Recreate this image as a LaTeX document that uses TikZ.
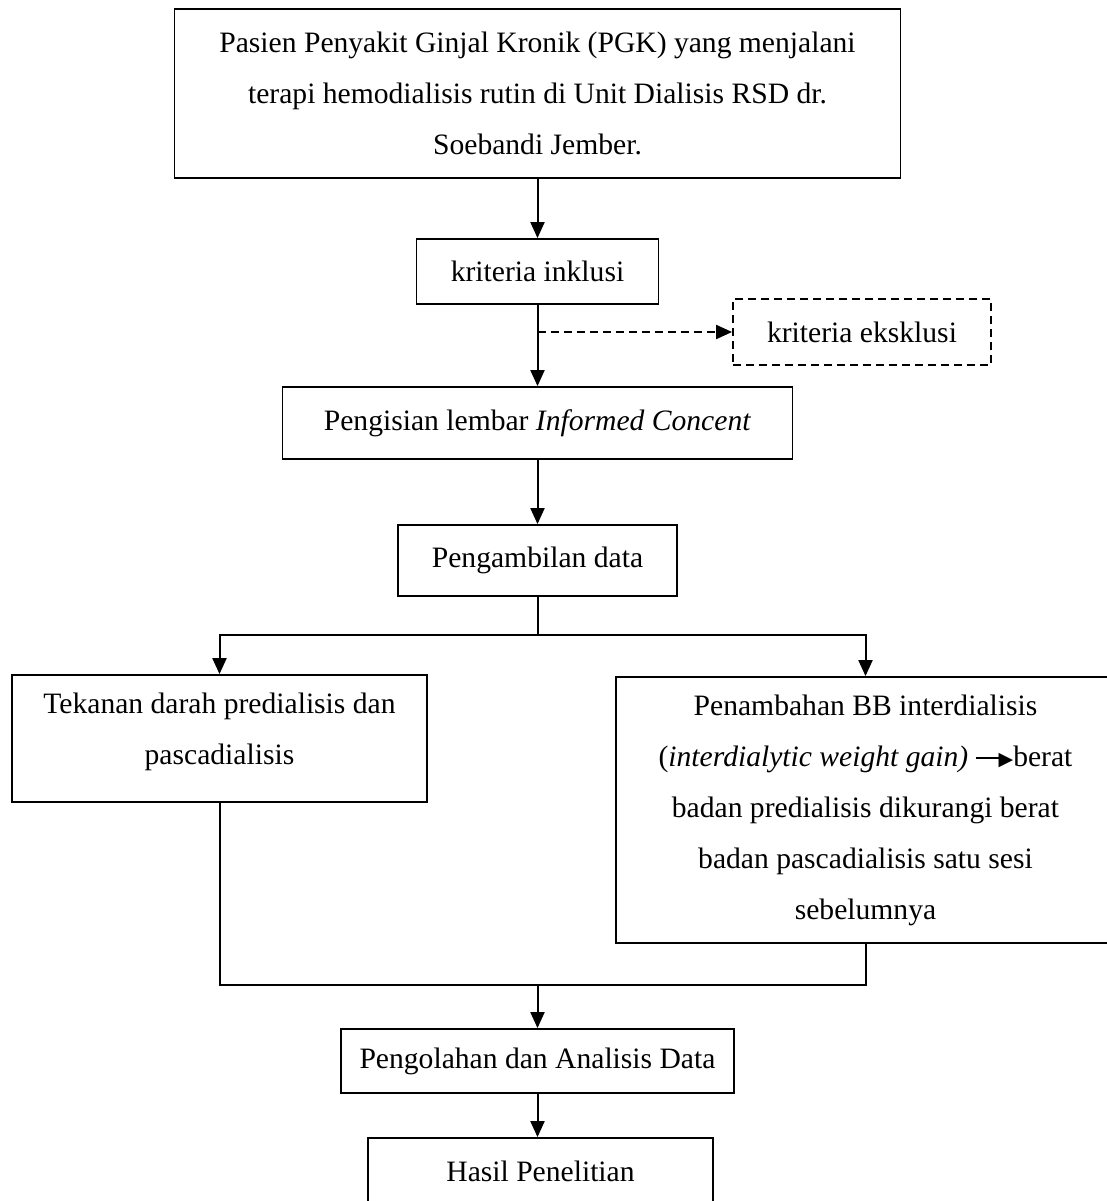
\documentclass[tikz,border=0pt]{standalone}
\usepackage{fontspec}
\setmainfont{Liberation Serif}
\newfontfamily\dejavu{DejaVu Sans}
\usetikzlibrary{arrows.meta}
\newcommand{\inarrow}{\rule[7pt]{25pt}{2.4pt}\kern-2pt\raisebox{0.3pt}{\dejavu\fontsize{19}{19}\selectfont ▶}}
\begin{document}
\begin{tikzpicture}[x=1pt,y=-1pt,
  box/.style={draw, line width=1.8pt, inner sep=0pt, align=center,
    font=\fontsize{29.6}{51}\selectfont},
  dbox/.style={box, dash pattern=on 8pt off 5pt},
  arr/.style={line width=2pt, -{Triangle[length=16pt,width=14pt]}},
  darr/.style={arr, dash pattern=on 8pt off 5pt},
  ln/.style={line width=2pt}]
\useasboundingbox (0,0) rectangle (1107,1201);

\node[box, minimum width=726pt, minimum height=169pt] (n1) at (537.5,93.5)
  {Pasien Penyakit Ginjal Kronik (PGK) yang menjalani\\
   terapi hemodialisis rutin di Unit Dialisis RSD dr.\\
   Soebandi Jember.};
\node[box, minimum width=242pt, minimum height=65pt] (n2) at (537.5,271.5) {kriteria inklusi};
\node[dbox, minimum width=258pt, minimum height=66pt] (n3) at (862,332) {kriteria eksklusi};
\node[box, minimum width=510pt, minimum height=72pt] (n4) at (537.5,423) {Pengisian lembar \textit{Informed Concent}};
\node[box, minimum width=279pt, minimum height=71pt] (n5) at (537.5,560.5) {Pengambilan data};
\node[box, minimum width=415pt, minimum height=127pt] (n6) at (219.5,738.5)
  {Tekanan darah predialisis dan\\ pascadialisis\\[-31pt]};
\node[box, minimum width=499pt, minimum height=266pt] (n7) at (865.5,810)
  {Penambahan BB interdialisis\\
   (\textit{interdialytic weight gain)} \inarrow berat\\
   badan predialisis dikurangi berat\\
   badan pascadialisis satu sesi\\
   sebelumnya};
\node[box, minimum width=393pt, minimum height=64pt] (n8) at (537.5,1061) {Pengolahan dan Analisis Data};
\node[box, minimum width=345pt, minimum height=67pt] (n9) at (540.5,1171.5) {Hasil Penelitian};

\draw[arr] (n1.south) -- (n2.north);
\draw[arr] (n2.south) -- (n4.north);
\draw[darr] (n2.south |- n3.west) -- (n3.west);
\draw[arr] (n4.south) -- (n5.north);
\draw[ln] (n5.south) -- ++(0,38) coordinate (s);
\draw[arr] (s) -| (n6.north);
\draw[arr] (s) -| (n7.north);
\coordinate (m) at (537.5,985);
\draw[ln] (n6.south) |- (m);
\draw[ln] (n7.south) |- (m);
\draw[arr] (m) -- (n8.north);
\draw[arr] (n8.south) -- (n8.south |- n9.north);
\end{tikzpicture}
\end{document}
